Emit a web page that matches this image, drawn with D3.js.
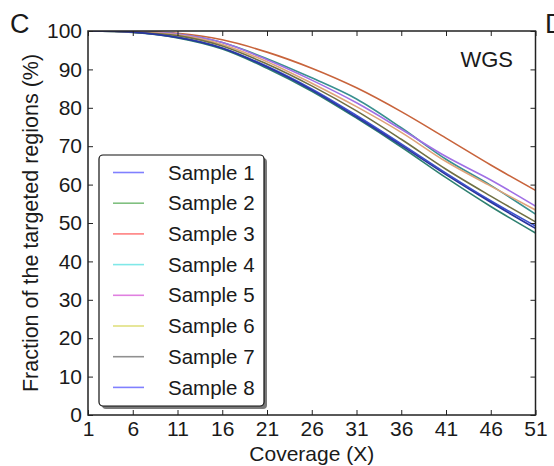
<!DOCTYPE html>
<html>
<head>
<meta charset="utf-8">
<script src="https://cdn.jsdelivr.net/npm/d3@7"></script>
<style>
    body { margin: 0; background: #fff; }
    #coverage text { font-family: "Liberation Sans", Arial, sans-serif; fill: #1a1a1a; }
</style>
</head>
<body>
<div id="coverage"></div>
<script>
// coverage thresholds (X)
const coverage = [1, 6, 11, 16, 21, 26, 31, 36, 41, 46, 51]
const xTicks = [1, 6, 11, 16, 21, 26, 31, 36, 41, 46, 51]
const yTicks = [0, 10, 20, 30, 40, 50, 60, 70, 80, 90, 100]

const sampleNames = ['Sample 1', 'Sample 2', 'Sample 3', 'Sample 4', 'Sample 5', 'Sample 6', 'Sample 7', 'Sample 8']

// fraction of targeted regions (%) per sample
const sample1 = [100, 99.7, 98.4, 95.6, 90.8, 84.9, 78.0, 70.6, 63.0, 55.8, 49.2]
const sample2 = [100, 99.6, 98.2, 95.3, 90.3, 84.3, 77.3, 69.8, 61.8, 54.3, 47.4]
const sample3 = [100, 99.9, 99.4, 97.7, 94.5, 90.3, 85.2, 79.0, 72.1, 65.1, 58.5]
const sample4 = [100, 99.8, 99.2, 97.0, 92.8, 87.8, 82.3, 74.8, 66.6, 59.8, 52.3]
const sample5 = [100, 99.8, 99.2, 97.0, 92.5, 87.2, 81.3, 74.4, 67.3, 61.2, 54.4]
const sample6 = [100, 99.8, 99.0, 96.5, 92.0, 86.4, 80.3, 73.6, 66.0, 59.6, 53.4]
const sample7 = [100, 99.7, 98.8, 96.1, 91.4, 85.7, 79.2, 71.8, 64.0, 57.0, 50.3]
const sample8 = [100, 99.7, 98.3, 95.5, 90.6, 84.6, 77.6, 70.2, 62.6, 55.4, 48.6]

const lineColors = ['#3c50d0', '#2f8070', '#c8643c', '#3a9090', '#a070e6', '#dfa47a', '#707044', '#2a35a0']
const legendColors = ['#8080ff', '#80c080', '#ff8080', '#80e8e8', '#e080e0', '#e0e080', '#909090', '#8080ff']

class CoveragePlot {
    constructor(){
        this.series = [sample1, sample2, sample3, sample4, sample5, sample6, sample7, sample8]
        this.size = { width: 554, height: 466 }
        this.margin = { top: 31, right: 18.5, bottom: 51, left: 88 }
        this.drawPlot()
    }

    drawPlot(){
        this.svg = d3.select('#coverage')
            .append('svg')
            .attr('width', this.size.width)
            .attr('height', this.size.height)

        this.innerW = this.size.width - this.margin.left - this.margin.right
        this.innerH = this.size.height - this.margin.top - this.margin.bottom

        this.xScale = d3.scaleLinear().domain([1, 51]).range([this.margin.left, this.margin.left + this.innerW])
        this.yScale = d3.scaleLinear().domain([0, 100]).range([this.margin.top + this.innerH, this.margin.top])

        this.svg.append('clipPath').attr('id', 'plot-clip')
            .append('rect')
            .attr('x', this.margin.left).attr('y', this.margin.top)
            .attr('width', this.innerW).attr('height', this.innerH)

        this.drawLines()
        this.drawAxis()
        this.drawLegend()
        this.drawText()
    }

    drawLines(){
        let line = d3.line()
            .x((d, i) => this.xScale(coverage[i]))
            .y(d => this.yScale(d))
            .curve(d3.curveCatmullRom.alpha(0.5))

        this.svg.append('g')
            .attr('clip-path', 'url(#plot-clip)')
            .selectAll('path')
            .data(this.series)
            .join('path')
            .attr('d', d => line(d))
            .attr('fill', 'none')
            .attr('stroke', (d, i) => lineColors[i])
            .attr('stroke-width', 1.6)
    }

    drawAxis(){
        const x = this.xScale, y = this.yScale
        const tick = 5
        let styleAxis = g => {
            g.select('.domain').remove()
            g.selectAll('line').attr('stroke', '#222').attr('stroke-width', 1)
            g.selectAll('text').attr('font-size', 21)
        }

        this.svg.append('g')
            .attr('transform', `translate(0,${y(0)})`)
            .call(d3.axisBottom(x).tickValues(xTicks).tickSize(-tick).tickPadding(6).tickFormat(d3.format('d')))
            .call(styleAxis)
        this.svg.append('g')
            .attr('transform', `translate(0,${y(100)})`)
            .call(d3.axisTop(x).tickValues(xTicks).tickSize(-tick).tickFormat(''))
            .call(styleAxis)
        this.svg.append('g')
            .attr('transform', `translate(${x(1)},0)`)
            .call(d3.axisLeft(y).tickValues(yTicks).tickSize(-tick).tickPadding(6).tickFormat(d3.format('d')))
            .call(styleAxis)
        this.svg.append('g')
            .attr('transform', `translate(${x(51)},0)`)
            .call(d3.axisRight(y).tickValues(yTicks).tickSize(-tick).tickFormat(''))
            .call(styleAxis)

        this.svg.selectAll('.tick text').attr('fill', '#1a1a1a')

        // frame
        this.svg.append('rect')
            .attr('x', x(1)).attr('y', y(100))
            .attr('width', x(51) - x(1)).attr('height', y(0) - y(100))
            .attr('fill', 'none').attr('stroke', '#222').attr('stroke-width', 1.5)
    }

    drawLegend(){
        let lx = 99, ly = 155, lw = 165, lh = 251
        let legend = this.svg.append('g')

        legend.append('rect')
            .attr('x', lx + 3).attr('y', ly + 3).attr('width', lw).attr('height', lh)
            .attr('rx', 4).attr('fill', '#7a7a7a')
        legend.append('rect')
            .attr('x', lx).attr('y', ly).attr('width', lw).attr('height', lh)
            .attr('rx', 4).attr('fill', '#fff').attr('stroke', '#111').attr('stroke-width', 1.2)

        let rows = legend.selectAll('g.row')
            .data(sampleNames)
            .join('g')
            .attr('class', 'row')
            .attr('transform', (d, i) => `translate(0,${ly + 17.5 + i * 30.7})`)

        rows.append('line')
            .attr('x1', 113).attr('x2', 144)
            .attr('stroke', (d, i) => legendColors[i])
            .attr('stroke-width', 1.6)
        rows.append('text')
            .attr('x', 168).attr('dy', '0.35em')
            .attr('font-size', 20.5)
            .text(d => d)
    }

    drawText(){
        this.svg.append('text')
            .attr('x', (this.xScale(1) + this.xScale(51)) / 2).attr('y', 461)
            .attr('text-anchor', 'middle').attr('font-size', 21)
            .text('Coverage (X)')

        this.svg.append('text')
            .attr('transform', `translate(38,${(this.yScale(0) + this.yScale(100)) / 2}) rotate(-90)`)
            .attr('text-anchor', 'middle').attr('font-size', 21.5)
            .text('Fraction of the targeted regions (%)')

        this.svg.append('text')
            .attr('x', 513).attr('y', 67)
            .attr('text-anchor', 'end').attr('font-size', 22)
            .text('WGS')

        this.svg.append('text')
            .attr('x', 10).attr('y', 33).attr('font-size', 27)
            .text('C')
        this.svg.append('text')
            .attr('x', 545).attr('y', 33).attr('font-size', 27)
            .text('D')
    }
}

new CoveragePlot()
</script>
</body>
</html>
